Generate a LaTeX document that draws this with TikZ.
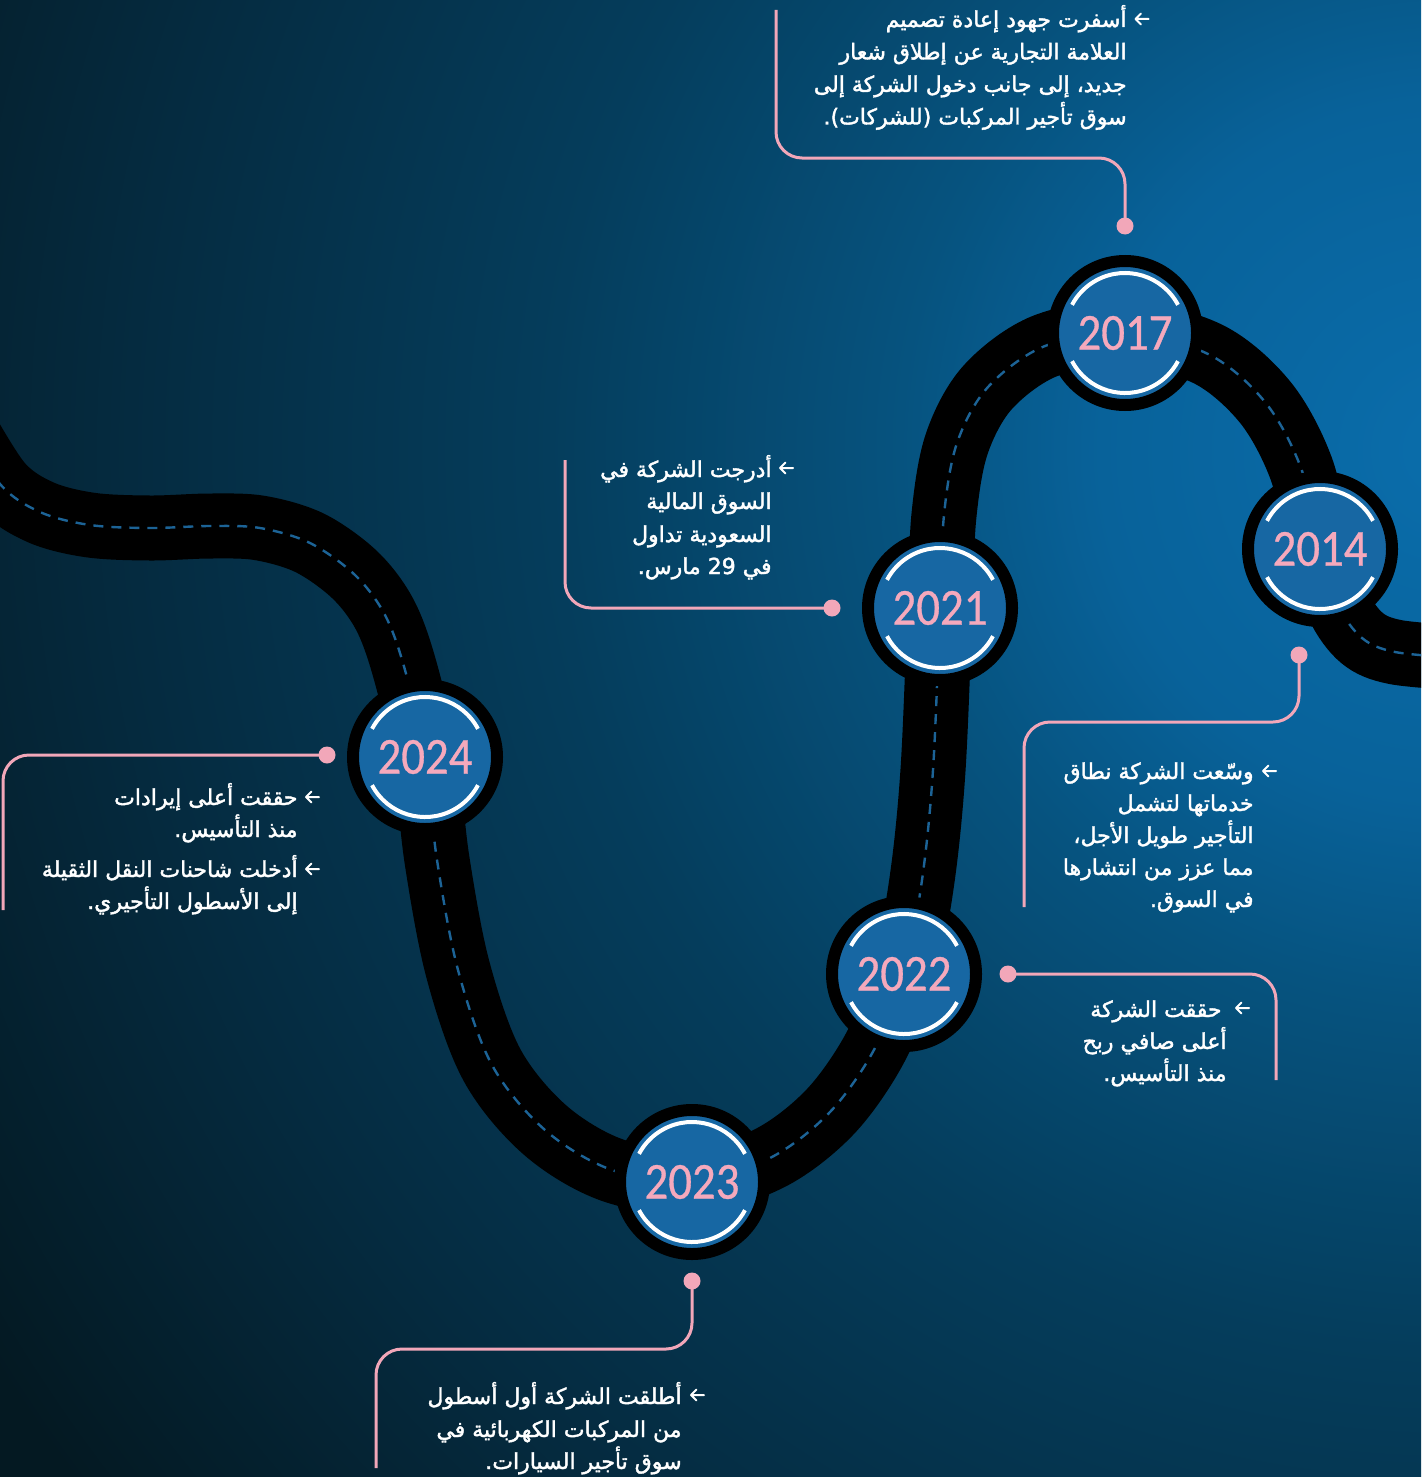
\documentclass[tikz,border=0pt]{standalone}
\usepackage{fontspec}
\usetikzlibrary{calc}
\TeXXeTstate=1
\newfontfamily\arabicfont[Script=Arabic,FakeBold=1.8]{DejaVu Sans}
\newfontfamily\yearfont[FakeStretch=0.9,FakeBold=0.6]{Carlito}
\definecolor{pinky}{HTML}{F5A9BC}
\definecolor{connpink}{HTML}{F2A7B9}
\definecolor{circblue}{HTML}{1767A3}
\definecolor{dashblue}{HTML}{1C6396}
\definecolor{bgA}{HTML}{0A6DAB}
\definecolor{bgB}{HTML}{08629A}
\definecolor{bgC}{HTML}{06537F}
\definecolor{bgD}{HTML}{053D5C}
\definecolor{bgE}{HTML}{052B40}
\definecolor{bgF}{HTML}{041922}
\pgfdeclareradialshading{bgshade}{\pgfpoint{0bp}{0bp}}{color(0bp)=(bgA); color(4.375bp)=(bgB); color(6.875bp)=(bgC); color(11.25bp)=(bgD); color(16.5bp)=(bgE); color(21.5bp)=(bgF); color(25bp)=(bgF); color(50bp)=(bgF)}
\newcommand\roadpath{plot[smooth,tension=0.55] coordinates {(-40,420) (0,484) (40,512) (90,525) (150,528) (210,526) (260,528) (310,543) (355,575) (385,615) (405,670) (425,757) (437,860) (458,970) (492,1065) (545,1130) (612,1170) (692,1182) (770,1158) (830,1112) (875,1048) (904,974) (922,880) (933,770) (940,608) (944,515) (957,443) (988,387) (1045,346) (1125,333) (1208,354) (1265,402) (1301,468) (1320,549) (1338,605) (1362,638) (1395,652) (1460,658)}}
\begin{document}
\begin{tikzpicture}[x=0.5pt,y=-0.5pt,
  conn/.style={draw=connpink, line width=1.5pt, rounded corners=13pt},
  dotnode/.style={circle, fill=connpink, minimum size=8.5pt, inner sep=0pt},
  txt/.style={text=white, font=\arabicfont\fontsize{11}{16}\selectfont, inner sep=0pt, anchor=base east},
  arrowicon/.pic={\draw[white, line width=1pt, line cap=round, line join=round]
      (6.5,0) -- (-6.5,0) (-1,-5.5) -- (-6.5,0) -- (-1,5.5);},
  yearnode/.style={circle, minimum size=72pt, inner sep=0pt, fill=circblue, draw=black, line width=6pt,
    text=pinky, font=\yearfont\fontsize{26}{26}\selectfont,
    path picture={\draw[white, line width=2pt]
      ([shift={(28:30pt)}]path picture bounding box.center) arc[start angle=28,end angle=152,radius=30pt]
      ([shift={(208:30pt)}]path picture bounding box.center) arc[start angle=208,end angle=332,radius=30pt];}}
]
\useasboundingbox (0,0) rectangle (1421,1477);
\begin{scope}
\clip (0,0) rectangle (1421,1477);
\shade[shading=bgshade] (1450,450) circle (1000pt);
\draw[black, line width=32.5pt] \roadpath;
\draw[dashblue, line width=1.2pt, dash pattern=on 5pt off 4pt] \roadpath;
\end{scope}

% year circles
\node[yearnode] (y17) at (1125,333) {2017};
\node[yearnode] (y14) at (1320,549) {2014};
\node[yearnode] (y21) at (940,608) {2021};
\node[yearnode] (y22) at (904,974) {2022};
\node[yearnode] (y23) at (692,1182) {2023};
\node[yearnode] (y24) at (425,757) {2024};

% connectors
\node[dotnode] (d17) at (1125,226) {};
\coordinate (k17) at (776,158);
\coordinate (e17) at (776,10);
\draw[conn] (d17.center) |- (k17) -- (e17);

\node[dotnode] (d21) at (832,608) {};
\coordinate (k21) at (565,608);
\coordinate (e21) at (565,460);
\draw[conn] (d21.center) -- (k21) -- (e21);

\node[dotnode] (d14) at (1299,655) {};
\coordinate (k14) at (1024,722);
\coordinate (e14) at (1024,907);
\draw[conn] (d14.center) |- (k14) -- (e14);

\node[dotnode] (d24) at (327,755) {};
\coordinate (k24) at (3,755);
\coordinate (e24) at (3,910);
\draw[conn] (d24.center) -- (k24) -- (e24);

\node[dotnode] (d22) at (1008,974) {};
\coordinate (k22) at (1276,974);
\coordinate (e22) at (1276,1080);
\draw[conn] (d22.center) -- (k22) -- (e22);

\node[dotnode] (d23) at (692,1281) {};
\coordinate (k23) at (376,1349);
\coordinate (e23) at (376,1468);
\draw[conn] (d23.center) |- (k23) -- (e23);

% texts 2017
\pic (a17) at (1142,19) {arrowicon};
\node[txt] (t17a) at (1127,27) {\beginR أسفرت جهود إعادة تصميم\endR};
\node[txt] (t17b) at (1127,59.5) {\beginR العلامة التجارية عن إطلاق شعار\endR};
\node[txt] (t17c) at (1127,92) {\beginR جديد، إلى جانب دخول الشركة إلى\endR};
\node[txt] (t17d) at (1127,124.5) {\beginR سوق تأجير المركبات (للشركات).\endR};

% texts 2021
\pic (a21) at (786.5,468) {arrowicon};
\node[txt] (t21a) at (772,477) {\beginR أدرجت الشركة في\endR};
\node[txt] (t21b) at (772,509) {\beginR السوق المالية\endR};
\node[txt] (t21c) at (772,542) {\beginR السعودية تداول\endR};
\node[txt] (t21d) at (772,574) {\beginR في 29  مارس.\endR};

% texts 2014
\pic (a14) at (1269.5,771) {arrowicon};
\node[txt] (t14a) at (1254,779) {\beginR وسّعت الشركة نطاق\endR};
\node[txt] (t14b) at (1254,811) {\beginR خدماتها لتشمل\endR};
\node[txt] (t14c) at (1254,843) {\beginR التأجير طويل الأجل،\endR};
\node[txt] (t14d) at (1254,875) {\beginR مما عزز من انتشارها\endR};
\node[txt] (t14e) at (1254,907) {\beginR في السوق.\endR};

% texts 2024
\pic (a24a) at (312.5,797) {arrowicon};
\node[txt] (t24a) at (298,805) {\beginR حققت أعلى إيرادات\endR};
\node[txt] (t24b) at (298,837) {\beginR منذ التأسيس.\endR};
\pic (a24b) at (312.5,869) {arrowicon};
\node[txt] (t24c) at (298,877) {\beginR أدخلت شاحنات النقل الثقيلة\endR};
\node[txt] (t24d) at (298,909) {\beginR إلى الأسطول التأجيري.\endR};

% texts 2022
\pic (a22) at (1242.5,1008) {arrowicon};
\node[txt] (t22a) at (1222,1017) {\beginR حققت الشركة\endR};
\node[txt] (t22b) at (1227,1049) {\beginR أعلى صافي ربح\endR};
\node[txt] (t22c) at (1227,1081) {\beginR منذ التأسيس.\endR};

% texts 2023
\pic (a23) at (697.5,1395) {arrowicon};
\node[txt] (t23a) at (682,1404) {\beginR أطلقت الشركة أول أسطول\endR};
\node[txt] (t23b) at (682,1437) {\beginR من المركبات الكهربائية في\endR};
\node[txt] (t23c) at (682,1469) {\beginR سوق تأجير السيارات.\endR};
\end{tikzpicture}
\end{document}
